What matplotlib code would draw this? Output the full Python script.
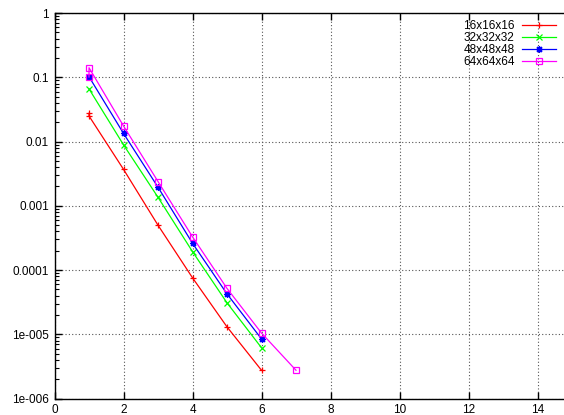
import matplotlib

matplotlib.use("Agg")
import matplotlib.pyplot as plt
from matplotlib.ticker import FixedLocator, LogLocator, NullFormatter

plt.rcParams["font.family"] = ["Liberation Sans", "DejaVu Sans"]

# residual per iteration, one series per grid size
labels = ["16x16x16", "32x32x32", "48x48x48", "64x64x64"]
x16 = [1, 1, 2, 3, 4, 5, 6]
y16 = [0.0275, 0.025, 0.0037, 5.0e-4, 7.6e-5, 1.31e-5, 2.77e-6]
x32 = [1, 2, 3, 4, 5, 6]
y32 = [0.066, 0.0089, 1.36e-3, 1.94e-4, 3.1e-5, 6.2e-6]
x48 = [1, 2, 3, 4, 5, 6]
y48 = [0.102, 0.0134, 1.95e-3, 2.62e-4, 4.27e-5, 8.5e-6]
x64 = [1, 1, 2, 3, 4, 5, 6, 7]
y64 = [0.101, 0.141, 0.0175, 2.39e-3, 3.3e-4, 5.2e-5, 1.05e-5, 2.77e-6]

ytick_vals = [1e-6, 1e-5, 1e-4, 1e-3, 1e-2, 1e-1, 1]
ytick_text = ["1e-006", "1e-005", "0.0001", "0.001", "0.01", "0.1", "1"]
xtick_vals = [0, 2, 4, 6, 8, 10, 12, 14]

W, H = 564, 415
fig = plt.figure(figsize=(W / 100, H / 100), dpi=100)
# gnuplot canvas: x range 0..15 runs past the right edge of the image
left, right, top, bottom = 54.5, 572.0, 13.0, 398.7
ax = fig.add_axes([left / W, 1 - bottom / H, (right - left) / W, (bottom - top) / H])

series = [
    (x16, y16, "#ff0000", "+", dict()),
    (x32, y32, "#00ff00", "x", dict()),
    (x48, y48, "#0000ff", (8, 2, 0), dict()),
    (x64, y64, "#ff00ff", "s", dict(fillstyle="none")),
]
for (xs, ys, col, mk, extra), lab in zip(series, labels):
    ax.plot(xs, ys, color=col, lw=0.9, marker=mk, ms=5, mew=0.9, label=lab, **extra)

ax.set_yscale("log")
ax.set_xlim(0, 15)
ax.set_ylim(1e-6, 1)
ax.xaxis.set_major_locator(FixedLocator(xtick_vals))
ax.set_xticklabels([str(v) for v in xtick_vals])
ax.yaxis.set_major_locator(FixedLocator(ytick_vals))
ax.set_yticklabels(ytick_text)
ax.yaxis.set_minor_locator(LogLocator(base=10, subs=range(2, 10)))
ax.yaxis.set_minor_formatter(NullFormatter())

ax.tick_params(which="both", direction="in", top=True, right=True, labelsize=8.5, colors="black", pad=4)
ax.tick_params(which="major", length=5, width=1)
ax.tick_params(which="minor", length=3, width=0.8)
ax.grid(True, which="major", color="#555555", ls=(0, (1, 2)), lw=0.8)
for s in ax.spines.values():
    s.set_linewidth(1.0)

ax.legend(
    loc="upper right",
    bbox_to_anchor=(562 / W, 1 - 14 / H),
    bbox_transform=fig.transFigure,
    frameon=False,
    markerfirst=False,
    fontsize=8.5,
    handlelength=2.9,
    handletextpad=0.6,
    labelspacing=0.0,
    borderpad=0,
)

fig.savefig("out.png", dpi=100)
